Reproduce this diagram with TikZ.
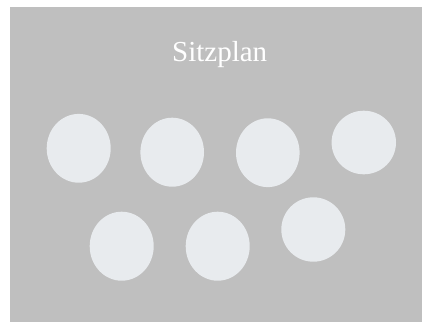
\documentclass[tikz,border=0pt]{standalone}
\usepackage{fontspec}
\setmainfont{Liberation Serif}
\definecolor{bgray}{HTML}{BFBFBF}
\definecolor{seat}{HTML}{E8EBEE}
\begin{document}
\begin{tikzpicture}[x=1pt,y=-1pt,
  seatshape/.style={fill=seat,draw=none}]
\useasboundingbox (0,0) rectangle (422,322);
\fill[bgray] (10,7) rectangle (422,322);
\node[text=white,font=\fontsize{29}{34}\selectfont,anchor=base] (title) at (219.7,61.5) {Sitzplan};
\fill[seatshape] (78.7,148.3) ellipse [x radius=32, y radius=34.4];
\fill[seatshape] (172.2,152.2) ellipse [x radius=31.8, y radius=34.5];
\fill[seatshape] (267.8,152.7) ellipse [x radius=31.8, y radius=34.4];
\fill[seatshape] (363.8,142.5) ellipse [x radius=32.2, y radius=31.8];
\fill[seatshape] (121.7,246.2) ellipse [x radius=32, y radius=34.5];
\fill[seatshape] (217.7,246.2) ellipse [x radius=32, y radius=34.5];
\fill[seatshape] (313.3,229.5) ellipse [x radius=32, y radius=32.2];
\end{tikzpicture}
\end{document}
